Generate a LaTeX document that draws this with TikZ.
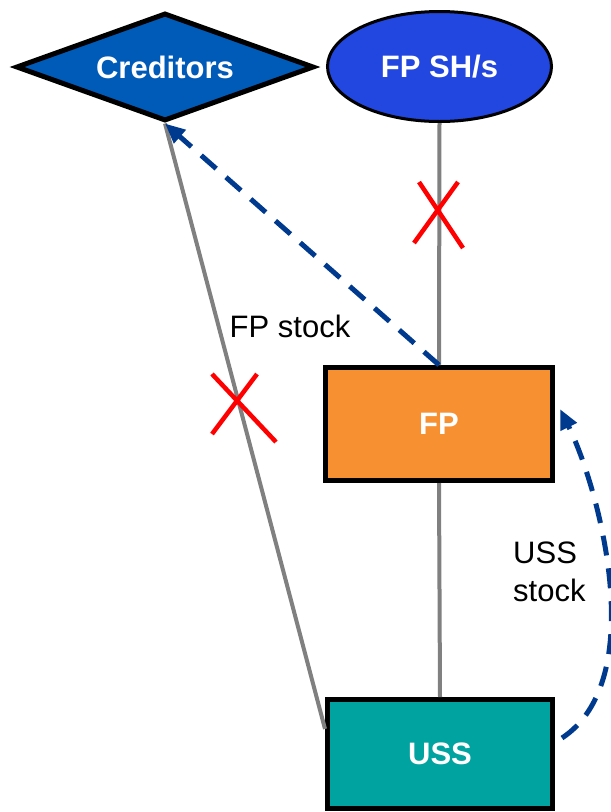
\documentclass[tikz,border=0pt]{standalone}
\usepackage{fontspec}
\setmainfont{Liberation Sans}
\usetikzlibrary{arrows.meta,calc,shapes.geometric}
\definecolor{CredBlue}{HTML}{005BB8}
\definecolor{HolderBlue}{HTML}{2147E0}
\definecolor{FpOrange}{HTML}{F69030}
\definecolor{UssTeal}{HTML}{00A39F}
\definecolor{FlowBlue}{HTML}{003A8E}
\definecolor{LinkGray}{HTML}{808080}
\tikzset{
  entity/.style={draw=black,text=white,inner sep=0pt,font=\bfseries\fontsize{31}{36}\selectfont},
  link/.style={LinkGray,line width=4pt},
  flow/.style={FlowBlue,line width=5pt,dash pattern=on 20pt off 13pt,-{Triangle[length=20pt,width=17pt]}},
  cut/.style={red,line width=4.5pt},
  lbl/.style={inner sep=0pt,font=\fontsize{31}{38}\selectfont}
}

\begin{document}
\begin{tikzpicture}[x=1pt,y=-1pt]
  \useasboundingbox (0,0) rectangle (611,812);
  % parties
  \node[entity,shape=diamond,aspect=2.76,fill=CredBlue,line width=5pt,minimum width=298pt,minimum height=108pt] (cred) at (165,67) {Creditors};
  \node[entity,shape=ellipse,fill=HolderBlue,line width=3pt,minimum width=224pt,minimum height=110pt] (fpsh) at (439.5,66.5) {FP SH/s};
  \node[entity,rectangle,fill=FpOrange,line width=5pt,minimum width=227pt,minimum height=113pt] (fp) at (439,424) {FP};
  \node[entity,rectangle,fill=UssTeal,line width=5pt,minimum width=225pt,minimum height=109pt] (uss) at (440,754) {USS};
  % ownership links
  \coordinate (ussside) at ($(uss.north west)!0.28!(uss.south west)$);
  \draw[link] (fpsh.south) -- (fp.north);
  \draw[link] (fp.south) -- (uss.north);
  \draw[link] (cred.south) -- (ussside);
  % cut links
  \draw[cut] (419,182) -- (463,248) (458,182) -- (414,243);
  \draw[cut] (212,374) -- (276,442) (257,374) -- (212,434);
  % stock transfers
  \coordinate (ussout) at (562,738);
  \coordinate (fpin) at (560,409);
  \draw[flow] (fp.north) -- (cred.south);
  \draw[flow] (ussout) .. controls (650,680) and (600,490) .. (fpin);
  \node[lbl,anchor=base] (fplabel) at (290,337) {FP stock};
  \node[lbl,anchor=north west,align=left] (usslabel) at (513,542) {USS\\stock};
\end{tikzpicture}
\end{document}
